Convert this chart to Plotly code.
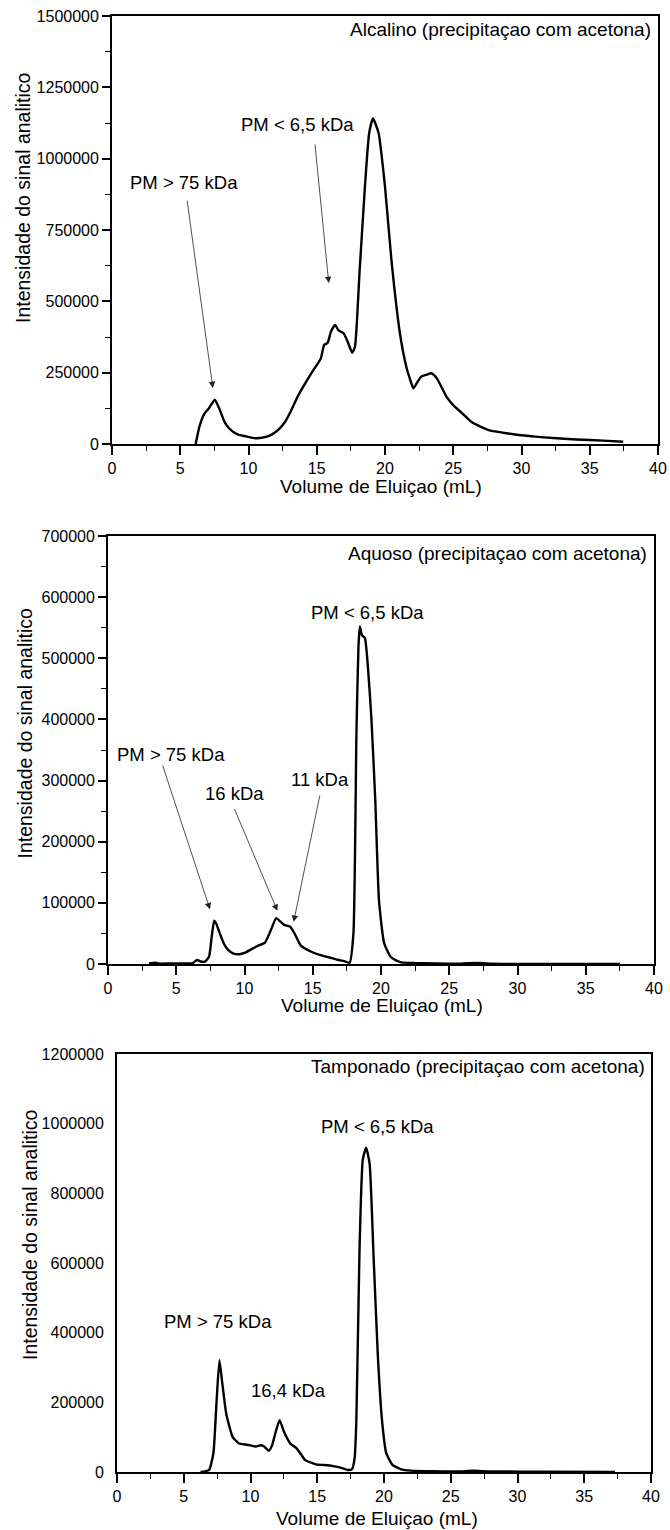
import plotly.graph_objects as go

# ---------------- data ----------------
# Panel 1: Alcalino
vol_alc = [6.13, 6.4, 6.75, 7.1, 7.53, 7.85, 8.3, 8.8, 9.25, 9.8, 10.5, 11.2, 11.7, 12.2, 12.68,
           13.1, 13.6, 14.0, 14.5, 15.0, 15.3, 15.54, 15.8, 16.05, 16.35, 16.6, 16.97, 17.25, 17.6,
           17.8, 18.13, 18.53, 18.84, 19.12, 19.53, 20.0, 20.47, 21.09, 21.56, 21.85, 22.08, 22.35,
           22.65, 23.0, 23.4, 23.8, 24.5, 24.98, 25.6, 26.4, 27.6, 28.6, 29.8, 31.0, 32.3, 34.0,
           36.0, 37.45]
sig_alc = [0, 60000, 105000, 125000, 155000, 125000, 72000, 45000, 33000, 27000, 20000, 24000,
           33000, 50000, 78000, 115000, 166000, 200000, 240000, 277000, 300000, 347000, 355000,
           395000, 417000, 398000, 388000, 360000, 320000, 341000, 598000, 902000, 1090000,
           1141000, 1090000, 902000, 645000, 389000, 271000, 225000, 195000, 215000, 236000,
           242000, 248000, 230000, 166000, 137000, 110000, 75000, 49000, 40000, 31500, 26000,
           21000, 16000, 12000, 8000]

# Panel 2: Aquoso
vol_aq = [3.0, 3.5, 3.7, 4.5, 6.2, 6.53, 6.8, 7.1, 7.4, 7.6, 7.78, 7.95, 8.19, 8.5, 8.8, 9.2, 9.6,
          10.0, 10.5, 11.0, 11.5, 11.94, 12.32, 12.6, 12.9, 13.35, 13.66, 14.13, 14.9, 15.5, 16.16,
          16.8, 17.4, 17.7, 17.98, 18.2, 18.35, 18.45, 18.6, 18.82, 19.04, 19.29, 19.58, 19.85,
          20.23, 20.7, 21.1, 21.48, 22.5, 24.0, 25.8, 26.5, 27.0, 27.5, 28.0, 30.0, 37.5]
sig_aq = [800, 2000, 800, 800, 1500, 6500, 4000, 4000, 12000, 45000, 71000, 65000, 50000, 33000,
          23000, 17000, 16000, 18000, 24000, 30000, 35000, 56000, 75000, 70000, 64000, 61000, 50000,
          30000, 20000, 15000, 11000, 7000, 4000, 2000, 50000, 377000, 520000, 552000, 538000,
          533000, 486000, 404000, 268000, 105000, 34000, 12000, 6000, 2700, 1500, 800, 500, 1500,
          1800, 1500, 300, 0, 0]

# Panel 3: Tamponado
vol_tamp = [6.26, 6.6, 6.9, 7.22, 7.45, 7.67, 7.86, 8.18, 8.66, 9.14, 9.6, 9.94, 10.4, 10.74, 11.0,
            11.38, 11.6, 11.86, 12.18, 12.5, 12.98, 13.45, 13.8, 14.1, 14.9, 15.5, 16.17, 16.8,
            17.29, 17.6, 17.8, 17.93, 18.16, 18.41, 18.66, 18.92, 19.21, 19.53, 19.85, 20.17,
            20.65, 21.29, 22.0, 23.7, 25.5, 26.3, 26.8, 27.3, 28.5, 32.0, 37.3]
sig_tamp = [0, 2000, 5700, 54000, 197000, 321000, 264000, 168000, 101000, 82000, 79000, 77000,
            73000, 77000, 74000, 61000, 75000, 111000, 149000, 116000, 82000, 68000, 50000, 34000,
            22000, 20000, 17000, 12000, 5700, 8000, 40000, 149000, 628000, 896000, 931000, 886000,
            628000, 341000, 149000, 54000, 20000, 7700, 4000, 2000, 1500, 3000, 3500, 2500, 1500,
            800, 500]

x_ticks = [0, 5, 10, 15, 20, 25, 30, 35, 40]
x_title = "Volume de Eluiçao (mL)"
y_title = "Intensidade do sinal analitico"

# ---------------- layout helpers ----------------
W, H = 670, 1530
FONT = "Liberation Sans, Arial, sans-serif"

def px_x(p):
    return p / W

def px_y(p):
    return 1 - p / H

# pixel boxes: left, right, top, bottom
boxes = [(112, 658, 16, 444), (108, 654, 536, 964), (117, 651, 1054, 1472)]
yranges = [1500000, 700000, 1200000]
ydticks = [250000, 100000, 200000]
yminor = [125000, 50000, None]

fig = go.Figure()
series = [(vol_alc, sig_alc), (vol_aq, sig_aq), (vol_tamp, sig_tamp)]
for i, (xs, ys) in enumerate(series):
    sfx = "" if i == 0 else str(i + 1)
    fig.add_trace(go.Scatter(x=xs, y=ys, mode="lines",
                             line=dict(color="black", width=2.4, shape="spline", smoothing=0.5),
                             xaxis="x" + sfx, yaxis="y" + sfx, showlegend=False,
                             hoverinfo="skip"))

layout = dict(template="none", width=W, height=H, margin=dict(l=0, r=0, t=0, b=0, pad=0),
              paper_bgcolor="white", plot_bgcolor="white",
              font=dict(family=FONT, color="black"), showlegend=False)

for i, (l, r, t, b) in enumerate(boxes):
    sfx = "" if i == 0 else str(i + 1)
    ax_common = dict(showline=True, linecolor="black", linewidth=1.8, mirror=True,
                     showgrid=False, zeroline=False, automargin=False,
                     tickfont=dict(family=FONT, size=16, color="black"))
    layout["xaxis" + sfx] = dict(ax_common, domain=[px_x(l), px_x(r)], range=[0, 40],
                                 tickmode="array", tickvals=x_ticks,
                                 ticks="outside", ticklen=9, tickwidth=1.6, tickcolor="black",
                                 minor=dict(dtick=2.5, ticks="outside", ticklen=5,
                                            tickwidth=1.4, tickcolor="black"),
                                 anchor="y" + sfx)
    yax = dict(ax_common, domain=[px_y(b), px_y(t)], range=[0, yranges[i]],
               dtick=ydticks[i], tick0=0, tickformat="d",
               ticks="outside", ticklen=8, tickwidth=1.6,
               tickcolor="black" if yminor[i] else "rgba(0,0,0,0)",
               anchor="x" + sfx)
    if yminor[i]:
        yax["minor"] = dict(dtick=yminor[i], ticks="outside", ticklen=5,
                            tickwidth=1.4, tickcolor="black")
    layout["yaxis" + sfx] = yax

fig.update_layout(**layout)

ann = []
# axis titles (paper coords from pixel positions)
xt_pos = [(381, 486), (382, 1005), (377, 1518)]
yt_pos = [(23, 198), (24.5, 733), (30, 1235)]
for (xp, yp) in xt_pos:
    ann.append(dict(xref="paper", yref="paper", x=px_x(xp), y=px_y(yp), text=x_title,
                    showarrow=False, font=dict(size=19, family=FONT, color="black"),
                    xanchor="center", yanchor="middle"))
for (xp, yp) in yt_pos:
    ann.append(dict(xref="paper", yref="paper", x=px_x(xp), y=px_y(yp), text=y_title,
                    showarrow=False, textangle=-90,
                    font=dict(size=19.5, family=FONT, color="black"),
                    xanchor="center", yanchor="middle"))

def txt(sfx, x, y, s, anchor="center", size=18.5):
    ann.append(dict(xref="x" + sfx, yref="y" + sfx, x=x, y=y, text=s, showarrow=False,
                    font=dict(size=size, family=FONT, color="black"),
                    xanchor=anchor, yanchor="middle"))

def arrow(sfx, x0, y0, x1, y1):
    ann.append(dict(xref="x" + sfx, yref="y" + sfx, axref="x" + sfx, ayref="y" + sfx,
                    x=x1, y=y1, ax=x0, ay=y0, text="", showarrow=True,
                    arrowhead=2, arrowsize=1.6, arrowwidth=0.8, arrowcolor="#222"))

# Panel 1
txt("", 39.6, 1451000, "Alcalino (precipitaçao com acetona)", "right", 19)
txt("", 5.27, 915000, "PM > 75 kDa")
arrow("", 5.49, 858000, 7.39, 196000)
txt("", 13.6, 1118000, "PM < 6,5 kDa")
arrow("", 14.86, 1055000, 15.88, 564000)

# Panel 2
txt("2", 39.6, 672000, "Aquoso (precipitaçao com acetona)", "right", 19)
txt("2", 18.98, 575000, "PM < 6,5 kDa")
txt("2", 4.6, 343000, "PM > 75 kDa")
arrow("2", 3.97, 327000, 7.47, 89500)
txt("2", 9.25, 279000, "16 kDa")
arrow("2", 9.22, 256000, 12.41, 87000)
txt("2", 15.5, 301000, "11 kDa")
arrow("2", 15.54, 278000, 13.6, 69000)

# Panel 3
txt("3", 39.67, 1163000, "Tamponado (precipitaçao com acetona)", "right", 19)
txt("3", 19.5, 993000, "PM < 6,5 kDa")
txt("3", 7.54, 431000, "PM > 75 kDa")
txt("3", 12.88, 235000, "16,4 kDa")

fig.update_layout(annotations=ann)
fig.write_html("out.html")
